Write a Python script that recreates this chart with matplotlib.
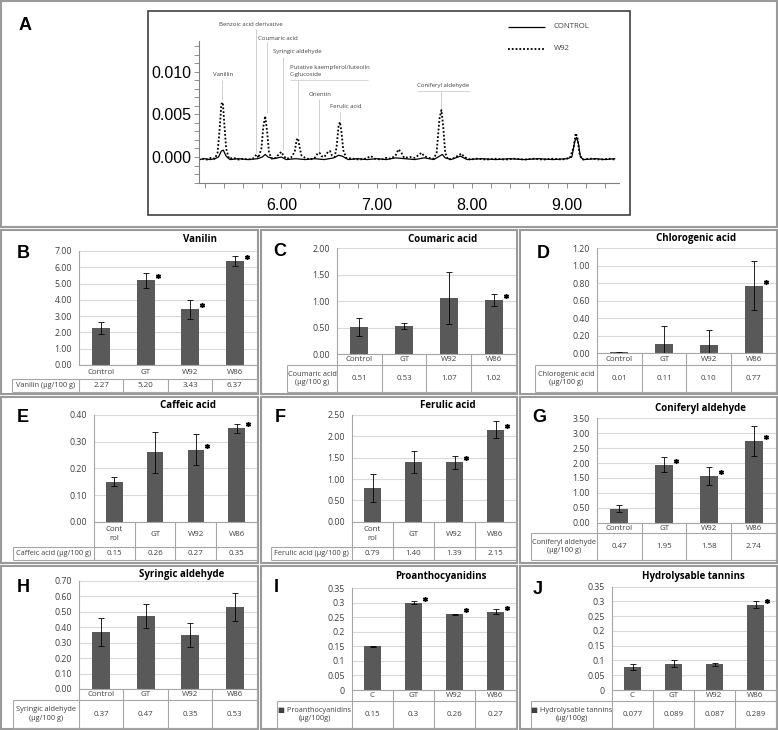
import numpy as np
import matplotlib
matplotlib.use("Agg")
import matplotlib.pyplot as plt
from matplotlib.patches import Rectangle
from matplotlib.ticker import MultipleLocator, FixedLocator, FuncFormatter
from matplotlib.transforms import offset_copy

plt.rcParams["font.family"] = ["Open Sans", "DejaVu Sans"]

W, H = 778, 730

# ---- chromatogram (panel A) ----
w92_time = [5.13, 5.18, 5.22, 5.26, 5.30, 5.33, 5.35, 5.37, 5.385, 5.40, 5.42, 5.45,
            5.50, 5.55, 5.60, 5.65, 5.70, 5.74, 5.76, 5.79, 5.81, 5.83, 5.85, 5.87,
            5.90, 5.94, 5.98, 6.00, 6.02, 6.05, 6.10, 6.14, 6.16, 6.175, 6.19, 6.21,
            6.25, 6.30, 6.35, 6.38, 6.40, 6.42, 6.45, 6.49, 6.51, 6.53, 6.56, 6.58,
            6.60, 6.615, 6.63, 6.65, 6.68, 6.75, 6.82, 6.88, 6.94, 6.98, 7.05, 7.10,
            7.15, 7.20, 7.23, 7.26, 7.29, 7.35, 7.40, 7.45, 7.47, 7.50, 7.55, 7.60,
            7.63, 7.66, 7.68, 7.70, 7.72, 7.75, 7.80, 7.86, 7.89, 7.92, 7.98, 8.05,
            8.15, 8.25, 8.35, 8.45, 8.55, 8.65, 8.75, 8.85, 8.95, 9.03, 9.07, 9.09,
            9.11, 9.13, 9.16, 9.25, 9.35, 9.45, 9.50]
w92_abs = [-0.0003, -0.0002, -0.0003, -0.0001, -0.0002, 0.0005, 0.0030, 0.0062, 0.0064, 0.0040, 0.0010, -0.0002,
           -0.0001, -0.0003, -0.0002, -0.0003, -0.0002, 0.0003, -0.0001, 0.0010, 0.0035, 0.0048, 0.0030, 0.0005,
           -0.0002, -0.0001, 0.0004, 0.0006, 0.0002, -0.0002, -0.0001, 0.0006, 0.0020, 0.0022, 0.0012, 0.0002,
           -0.0001, -0.0003, -0.0001, 0.0004, 0.0005, 0.0001, 0.0000, 0.0006, 0.0007, 0.0002, 0.0000, 0.0012,
           0.0036, 0.0041, 0.0030, 0.0008, -0.0001, -0.0002, -0.0003, -0.0002, 0.0001, -0.0002, -0.0003, -0.0001,
           -0.0002, 0.0002, 0.0009, 0.0005, -0.0001, 0.0000, -0.0001, 0.0003, 0.0005, 0.0001, -0.0001, -0.0002,
           0.0005, 0.0045, 0.0055, 0.0035, 0.0005, -0.0003, -0.0002, 0.0002, 0.0004, 0.0000, -0.0003, -0.0002,
           -0.0003, -0.0002, -0.0003, -0.0002, -0.0003, -0.0002, -0.0003, -0.0002, -0.0003, -0.0001, 0.0012, 0.0028,
           0.0022, 0.0004, -0.0003, -0.0002, -0.0003, -0.0002, -0.0003]
control_time = [5.13, 5.20, 5.25, 5.30, 5.34, 5.37, 5.39, 5.42, 5.46, 5.55, 5.65, 5.75,
                5.80, 5.83, 5.86, 5.92, 6.00, 6.05, 6.15, 6.25, 6.35, 6.45, 6.55, 6.60,
                6.64, 6.70, 6.80, 6.90, 7.00, 7.10, 7.20, 7.30, 7.40, 7.50, 7.60, 7.66,
                7.69, 7.72, 7.78, 7.88, 7.95, 8.10, 8.25, 8.40, 8.55, 8.70, 8.85, 9.00,
                9.05, 9.08, 9.10, 9.12, 9.14, 9.17, 9.30, 9.40, 9.50]
control_abs = [-0.0003, -0.0002, -0.0003, -0.0002, 0.0000, 0.0007, 0.0008, 0.0001, -0.0003, -0.0002, -0.0003, -0.0002,
               0.0000, 0.0003, 0.0000, -0.0002, 0.0000, -0.0003, -0.0002, -0.0003, -0.0002, -0.0003, -0.0001, 0.0002,
               0.0001, -0.0003, -0.0002, -0.0003, -0.0002, -0.0003, -0.0001, -0.0002, -0.0003, -0.0001, -0.0003, 0.0001,
               0.0003, -0.0001, -0.0003, 0.0001, -0.0003, -0.0002, -0.0003, -0.0002, -0.0003, -0.0002, -0.0003, -0.0002,
               0.0000, 0.0018, 0.0023, 0.0015, 0.0000, -0.0003, -0.0002, -0.0003, -0.0002]

peak_names = ["Vanillin", "Benzoic acid derivative", "Coumaric acid", "Syringic aldehyde",
              "Putative kaempferol/luteolin\nC-glucoside", "Orientin", "Ferulic acid", "Coniferyl aldehyde"]
peak_times = [5.38, 5.73, 5.845, 6.015, 6.175, 6.40, 6.615, 7.68]
peak_tops = [0.0066, 0.0003, 0.0050, 0.0007, 0.0023, 0.0006, 0.0042, 0.0056]

# ---- bar panels ----
groups = ["Control", "GT", "W92", "W86"]
groups_split = ["Cont\nrol", "GT", "W92", "W86"]
groups_short = ["C", "GT", "W92", "W86"]

vanilin = [2.27, 5.20, 3.43, 6.37]
vanilin_err = [0.35, 0.47, 0.58, 0.30]
vanilin_sig = [False, True, True, True]

coumaric = [0.51, 0.53, 1.07, 1.02]
coumaric_err = [0.17, 0.06, 0.49, 0.11]
coumaric_sig = [False, False, False, True]

chlorogenic = [0.01, 0.11, 0.10, 0.77]
chlorogenic_err = [0.01, 0.20, 0.17, 0.28]
chlorogenic_sig = [False, False, False, True]

caffeic = [0.15, 0.26, 0.27, 0.35]
caffeic_err = [0.017, 0.078, 0.058, 0.017]
caffeic_sig = [False, False, True, True]

ferulic = [0.79, 1.40, 1.39, 2.15]
ferulic_err = [0.32, 0.25, 0.16, 0.20]
ferulic_sig = [False, False, True, True]

coniferyl = [0.47, 1.95, 1.58, 2.74]
coniferyl_err = [0.12, 0.25, 0.30, 0.49]
coniferyl_sig = [False, True, True, True]

syringic = [0.37, 0.47, 0.35, 0.53]
syringic_err = [0.09, 0.077, 0.077, 0.093]
syringic_sig = [False, False, False, False]

proantho = [0.15, 0.30, 0.26, 0.27]
proantho_err = [0.003, 0.005, 0.003, 0.01]
proantho_sig = [False, True, True, True]

tannins = [0.077, 0.089, 0.087, 0.289]
tannins_err = [0.01, 0.012, 0.004, 0.012]
tannins_sig = [False, False, False, True]

BORDER = "#9a9a9a"
GRID = "#d9d9d9"
TABLE = "#a6a6a6"
BAR = "#595959"
TXT = "#404040"


def px_rect(x0, y0, x1, y1):
    return [x0 / W, 1 - y1 / H, (x1 - x0) / W, (y1 - y0) / H]


fig = plt.figure(figsize=(W / 100, H / 100), dpi=100)
ov = fig.add_axes([0, 0, 1, 1])
ov.set_xlim(0, W)
ov.set_ylim(H, 0)
ov.axis("off")


def seg(x, y, color=TABLE, lw=0.8):
    ov.plot(x, y, color=color, lw=lw, solid_capstyle="butt")


# ---- panel A ----
ov.add_patch(Rectangle((1, 1), 776, 226, fill=False, ec=BORDER, lw=1.5))
ov.add_patch(Rectangle((148, 11), 482, 204, fill=False, ec="#404040", lw=1.2))
ov.text(25, 25, "A", fontsize=13, fontweight="bold", family="Liberation Sans",
        ha="center", va="center")

cl, ct, cr, cb = 199, 40.7, 619, 183.3
t0, t1 = 5.135, 9.545
a0, a1 = -0.00308, 0.01362
chrom = fig.add_axes(px_rect(cl, ct, cr, cb))
chrom.patch.set_alpha(0)
chrom.plot(control_time, control_abs, color="black", lw=0.9)
chrom.plot(w92_time, w92_abs, color="black", lw=1.3, linestyle=(0, (1, 1.1)))
chrom.set_xlim(t0, t1)
chrom.set_ylim(a0, a1)
chrom.xaxis.set_major_locator(FixedLocator([6, 7, 8, 9]))
chrom.xaxis.set_minor_locator(MultipleLocator(0.2))
chrom.xaxis.set_major_formatter(FuncFormatter(lambda v, _: f"{v:.2f}"))
chrom.yaxis.set_major_locator(FixedLocator([0, 0.005, 0.010]))
chrom.yaxis.set_minor_locator(MultipleLocator(0.001))
chrom.yaxis.set_major_formatter(FuncFormatter(lambda v, _: f"{v:.3f}"))
for s in ("top", "right"):
    chrom.spines[s].set_visible(False)
for s in ("left", "bottom"):
    chrom.spines[s].set_color("#808080")
    chrom.spines[s].set_linewidth(0.8)
chrom.tick_params(which="both", length=3.5, width=0.6, color="#808080")
chrom.tick_params(axis="y", pad=2)
chrom.tick_params(axis="x", pad=7)
for lab in chrom.get_xticklabels() + chrom.get_yticklabels():
    lab.set_family(["Liberation Sans Narrow", "Liberation Sans"])
    lab.set_fontsize(11.5)


def px_x(t):
    return cl + (t - t0) / (t1 - t0) * (cr - cl)


def px_y(a):
    return cb - (a - a0) / (a1 - a0) * (cb - ct)


# peak label layout: (text x, ha, text y, line start y)
label_layout = [(223, "center", 75, 80), (219, "left", 25, 29), (258, "left", 38, 42),
                (273, "left", 52, 57), (290, "left", 71, 80), (309, "left", 94, 99),
                (330, "left", 107, 112), (417, "left", 86, 91)]
for name, t, top, (lx, ha, ly, ls) in zip(peak_names, peak_times, peak_tops, label_layout):
    ov.text(lx, ly, name, fontsize=4.3, color=TXT, ha=ha, va="center", linespacing=1.5)
    seg([px_x(t), px_x(t)], [ls, px_y(top) - 1], color="#c8c8c8", lw=0.6)
seg([290, 368], [80, 80], color="#d0d0d0", lw=0.6)
seg([417, 470], [91, 91], color="#d0d0d0", lw=0.6)

# legend
seg([508, 545], [27, 27], color="black", lw=0.9)
ov.plot([508, 545], [49, 49], color="black", lw=1.3, linestyle=(0, (1, 1.1)))
ov.text(554, 27, "CONTROL", fontsize=5.6, color=TXT, va="center")
ov.text(554, 49, "W92", fontsize=5.6, color=TXT, va="center")


# ---- bar panels ----
def fmt2(v):
    return f"{v:.2f}"


def fmtg(v):
    return f"{round(v, 3):g}"


def fmt3(v):
    return f"{v:.3f}"


panels = [
    dict(letter="B", title="Vanilin", vals=vanilin, errs=vanilin_err, sig=vanilin_sig,
         ymax=7, step=1, tick_fmt=fmt2, val_fmt=fmt2, cats=groups,
         row_label="Vanilin (µg/100 g)", box=(1, 230, 258, 394), plot=(79, 251, 257, 365),
         cat_cells=False, cat_y=372, data_top=379, data_bottom=392, table_left=12,
         title_xy=(200, 239), letter_xy=(23, 253)),
    dict(letter="C", title="Coumaric acid", vals=coumaric, errs=coumaric_err, sig=coumaric_sig,
         ymax=2, step=0.5, tick_fmt=fmt2, val_fmt=fmt2, cats=groups,
         row_label="Coumaric acid\n(µg/100 g)", box=(261, 230, 517, 394),
         plot=(337, 248.3, 516, 354.3), cat_cells=True, cat_bottom=365, data_bottom=392,
         table_left=287, title_xy=(443, 239), letter_xy=(280, 252)),
    dict(letter="D", title="Chlorogenic acid", vals=chlorogenic, errs=chlorogenic_err,
         sig=chlorogenic_sig, ymax=1.2, step=0.2, tick_fmt=fmt2, val_fmt=fmt2, cats=groups,
         row_label="Chlorogenic acid\n(µg/100 g)", box=(520, 230, 777, 394),
         plot=(597, 248.3, 776, 353.3), cat_cells=True, cat_bottom=365, data_bottom=392,
         table_left=535, title_xy=(696, 239), letter_xy=(543, 253)),
    dict(letter="E", title="Caffeic acid", vals=caffeic, errs=caffeic_err, sig=caffeic_sig,
         ymax=0.4, step=0.1, tick_fmt=fmt2, val_fmt=fmt2, cats=groups_split,
         row_label="Caffeic acid (µg/100 g)", box=(1, 397, 258, 563),
         plot=(94, 415, 257, 521.7), cat_cells=True, cat_bottom=546.7, data_bottom=560,
         table_left=13, title_xy=(188, 405), letter_xy=(23, 418)),
    dict(letter="F", title="Ferulic acid", vals=ferulic, errs=ferulic_err, sig=ferulic_sig,
         ymax=2.5, step=0.5, tick_fmt=fmt2, val_fmt=fmt2, cats=groups_split,
         row_label="Ferulic acid (µg/100 g)", box=(261, 397, 517, 563),
         plot=(352, 415, 516, 521.7), cat_cells=True, cat_bottom=546.7, data_bottom=560,
         table_left=271, title_xy=(448, 405), letter_xy=(280, 417)),
    dict(letter="G", title="Coniferyl aldehyde", vals=coniferyl, errs=coniferyl_err,
         sig=coniferyl_sig, ymax=3.5, step=0.5, tick_fmt=fmt2, val_fmt=fmt2, cats=groups,
         row_label="Coniferyl aldehyde\n(µg/100 g)", box=(520, 397, 777, 563),
         plot=(597, 418.3, 776, 522.7), cat_cells=True, cat_bottom=533.3, data_bottom=560,
         table_left=531, title_xy=(700, 409), letter_xy=(539, 418)),
    dict(letter="H", title="Syringic aldehyde", vals=syringic, errs=syringic_err,
         sig=syringic_sig, ymax=0.7, step=0.1, tick_fmt=fmt2, val_fmt=fmt2, cats=groups,
         row_label="Syringic aldehyde\n(µg/100 g)", box=(1, 566, 258, 729),
         plot=(79, 580.7, 257, 689), cat_cells=True, cat_bottom=700, data_bottom=728,
         table_left=13, title_xy=(182, 574), letter_xy=(23, 588)),
    dict(letter="I", title="Proanthocyanidins", vals=proantho, errs=proantho_err,
         sig=proantho_sig, ymax=0.35, step=0.05, tick_fmt=fmtg, val_fmt=fmtg, cats=groups_short,
         row_label="■ Proanthocyanidins\n(µg/100g)", box=(261, 566, 517, 729),
         plot=(352, 588.3, 516, 690), cat_cells=True, cat_bottom=700.7, data_bottom=728,
         table_left=277, title_xy=(441, 576), letter_xy=(276, 587)),
    dict(letter="J", title="Hydrolysable tannins", vals=tannins, errs=tannins_err,
         sig=tannins_sig, ymax=0.35, step=0.05, tick_fmt=fmtg, val_fmt=fmt3, cats=groups_short,
         row_label="■ Hydrolysable tannins\n(µg/100g)", box=(520, 566, 777, 729),
         plot=(612, 586.7, 776, 690), cat_cells=True, cat_bottom=700.7, data_bottom=728,
         table_left=531, title_xy=(693, 576), letter_xy=(538, 590)),
]


def bar_panel(p):
    x0, y0, x1, y1 = p["box"]
    ov.add_patch(Rectangle((x0, y0), x1 - x0, y1 - y0, fill=False, ec=BORDER, lw=1.5))
    ov.text(*p["letter_xy"], p["letter"], fontsize=13, fontweight="bold",
            family="Liberation Sans", ha="center", va="center")
    ov.text(*p["title_xy"], p["title"], fontsize=7, fontweight="bold",
            ha="center", va="center", color="black")

    pl, pt, pr, pb = p["plot"]
    ax = fig.add_axes(px_rect(pl, pt, pr, pb))
    ax.patch.set_alpha(0)
    xs = np.arange(len(p["vals"]))
    ax.bar(xs, p["vals"], width=0.4, color=BAR, yerr=p["errs"], capsize=2.2,
           error_kw=dict(elinewidth=0.6, capthick=0.6, ecolor="black"), zorder=2)
    star_tr = offset_copy(ax.transData, fig=fig, x=3, y=4, units="dots")
    for i, s in enumerate(p["sig"]):
        if s:
            ax.plot(i + 0.2, p["vals"][i], marker=(6, 2, 0), ms=3.6, mew=1.0,
                    color="black", transform=star_tr, clip_on=False, zorder=3)
    ax.set_xlim(-0.5, len(xs) - 0.5)
    ax.set_ylim(0, p["ymax"])
    ax.set_yticks(np.arange(0, p["ymax"] + p["step"] / 2, p["step"]))
    ax.yaxis.set_major_formatter(FuncFormatter(lambda v, _: p["tick_fmt"](v)))
    ax.set_xticks([])
    ax.yaxis.grid(True, color=GRID, lw=0.8)
    ax.set_axisbelow(True)
    for s in ("top", "right"):
        ax.spines[s].set_visible(False)
    for s in ("left", "bottom"):
        ax.spines[s].set_color(TABLE)
        ax.spines[s].set_linewidth(0.8)
    ax.tick_params(axis="y", length=0, labelsize=6.3, pad=5, labelcolor=TXT)

    # data table under the plot
    n = len(xs)
    cw = (pr - pl) / n
    tl = p["table_left"]
    db = p["data_bottom"]
    if p["cat_cells"]:
        cb_ = p["cat_bottom"]
        cat_y = (pb + cb_) / 2
        dt = cb_
        for k in range(n + 1):
            seg([pl + k * cw] * 2, [pb, db])
    else:
        cat_y = p["cat_y"]
        dt = p["data_top"]
        for k in range(n + 1):
            seg([pl + k * cw] * 2, [dt, db])
    seg([tl, pr], [dt, dt])
    seg([tl, pr], [db, db])
    seg([tl, tl], [dt, db])
    dy = (dt + db) / 2
    for i in range(n):
        cx = pl + (i + 0.5) * cw
        ov.text(cx, cat_y, p["cats"][i], fontsize=5.7, color=TXT, ha="center", va="center",
                linespacing=1.3)
        ov.text(cx, dy, p["val_fmt"](p["vals"][i]), fontsize=5.7, color=TXT,
                ha="center", va="center")
    ov.text((tl + pl) / 2, dy, p["row_label"], fontsize=5.3, color=TXT, ha="center",
            va="center", linespacing=1.3)


for p in panels:
    bar_panel(p)

fig.savefig("out.png", dpi=100)
